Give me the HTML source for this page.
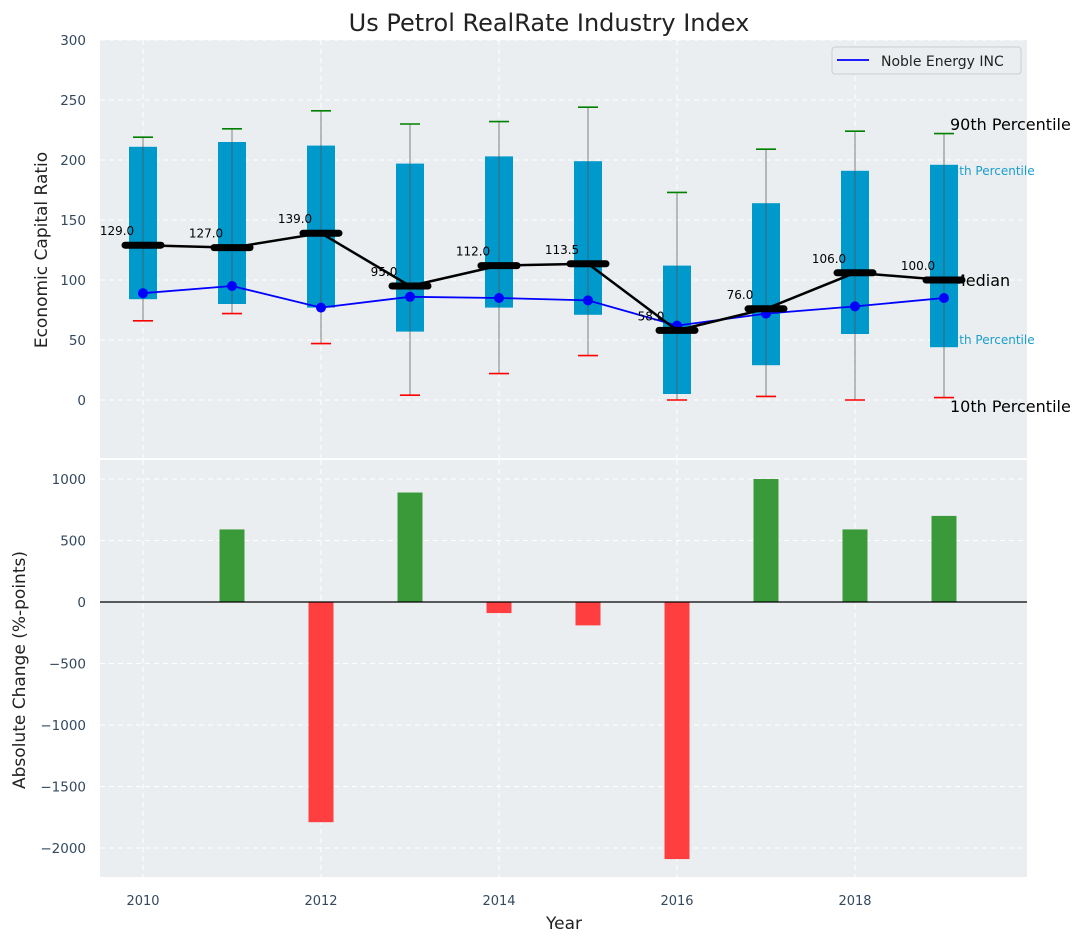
<!DOCTYPE html>
<html><head><meta charset="utf-8"><style>body{margin:0;background:#fff}svg{display:block;font-family:"DejaVu Sans","Liberation Sans",sans-serif}</style></head>
<body>
<svg id="c" width="1085" height="942"></svg>
<script>
const years=[2010,2011,2012,2013,2014,2015,2016,2017,2018,2019];
const p75=[211,215,212,197,203,199,112,164,191,196];
const p25=[84,80,77,57,77,71,5,29,55,44];
const p90=[219,226,241,230,232,244,173,209,224,222];
const p10=[66,72,47,4,22,37,0,3,0,2];
const medians=[129,127,139,95,112,113.5,58,76,106,100];
const noble=[89,95,77,86,85,83,62,72,78,85];
const changes=[0,590,-1790,890,-90,-190,-2090,1000,590,700];
const yTicksTop=[0,50,100,150,200,250,300];
const yTicksBot=[-2000,-1500,-1000,-500,0,500,1000];
const xTicks=[2010,2012,2014,2016,2018];
const NS='http://www.w3.org/2000/svg';
const svg=document.getElementById('c');
function mk(t,a,p){const e=document.createElementNS(NS,t);for(const k in a)e.setAttribute(k,a[k]);(p||svg).appendChild(e);return e;}
const L=100,R=1027;
const x=v=>143+(v-2010)*89;
const yT=v=>400-v*1.2;
const yB=v=>602-v*0.123;
let e=mk('rect',{x:L,y:40,width:R-L,height:418,fill:'#eaeef0'});

e=mk('rect',{x:L,y:460,width:R-L,height:417,fill:'#eaeef0'});

xTicks.forEach(t=>{
 mk('line',{x1:x(t),x2:x(t),y1:40,y2:458,stroke:'#fff','stroke-dasharray':'5,4','stroke-width':1});
 mk('line',{x1:x(t),x2:x(t),y1:460,y2:877,stroke:'#fff','stroke-dasharray':'5,4','stroke-width':1});
 e=mk('text',{x:x(t),y:905,'text-anchor':'middle','font-size':13,fill:'#34495e'});e.textContent=t;
 
});
yTicksTop.forEach(t=>{
 mk('line',{x1:L,x2:R,y1:yT(t),y2:yT(t),stroke:'#fff','stroke-dasharray':'5,4'});
 e=mk('text',{x:86,y:yT(t)+5,'text-anchor':'end','font-size':13.5,fill:'#34495e'});e.textContent=t;
 
});
yTicksBot.forEach(t=>{
 mk('line',{x1:L,x2:R,y1:yB(t),y2:yB(t),stroke:'#fff','stroke-dasharray':'5,4'});
 e=mk('text',{x:86,y:yB(t)+5,'text-anchor':'end','font-size':13.5,fill:'#34495e'});e.textContent=t.toString().replace('-','\u2212');
 
});
const ann=[['90th Percentile',950,130,'#000',16],['75th Percentile',944,175,'#1a9fcc',12],['Median',952,286,'#000',16],['25th Percentile',944,344,'#1a9fcc',12],['10th Percentile',950,412,'#000',16]];
ann.forEach(a=>{e=mk('text',{x:a[1],y:a[2],'font-size':a[4],fill:a[3]});e.textContent=a[0];
 });
years.forEach((yr,i)=>{
 e=mk('rect',{x:x(yr)-14,y:yT(p75[i]),width:28,height:yT(p25[i])-yT(p75[i]),fill:'#0099cc'});
 
 mk('line',{x1:x(yr),x2:x(yr),y1:yT(p90[i]),y2:yT(p10[i]),stroke:'#555','stroke-opacity':0.6,'stroke-width':1.2});
 e=mk('line',{x1:x(yr)-10,x2:x(yr)+10,y1:yT(p90[i]),y2:yT(p90[i]),stroke:'green','stroke-width':1.6});
 
 e=mk('line',{x1:x(yr)-10,x2:x(yr)+10,y1:yT(p10[i]),y2:yT(p10[i]),stroke:'red','stroke-width':1.6});
 
});
e=mk('polyline',{points:years.map((yr,i)=>x(yr)+','+yT(noble[i])).join(' '),fill:'none',stroke:'blue','stroke-width':1.8});

years.forEach((yr,i)=>{e=mk('circle',{cx:x(yr),cy:yT(noble[i]),r:5,fill:'blue'});
 });
e=mk('polyline',{points:years.map((yr,i)=>x(yr)+','+yT(medians[i])).join(' '),fill:'none',stroke:'#000','stroke-width':2.5});

years.forEach((yr,i)=>{
 e=mk('line',{x1:x(yr)-18,x2:x(yr)+18,y1:yT(medians[i]),y2:yT(medians[i]),stroke:'#000','stroke-width':7,'stroke-linecap':'round'});
 
 e=mk('text',{x:x(yr)-26,y:yT(medians[i])-10,'text-anchor':'middle','font-size':12,fill:'#000'});
 e.textContent=medians[i].toFixed(1);
 
});
const lg=mk('g',{});
mk('rect',{x:832,y:47,width:189,height:27,rx:3,fill:'#eaeef0',stroke:'#ccc'},lg);
mk('line',{x1:837,x2:869,y1:60,y2:60,stroke:'blue','stroke-width':1.8},lg);
e=mk('text',{x:881,y:66,'font-size':14,fill:'#222'},lg);e.textContent='Noble Energy INC';
years.forEach((yr,i)=>{const v=changes[i];const y0=yB(Math.max(v,0)),y1=yB(Math.min(v,0));
 e=mk('rect',{x:x(yr)-12.5,y:y0,width:25,height:y1-y0,fill:v>=0?'#3a9a3a':'#ff3f3f'});
 });
mk('line',{x1:L,x2:R,y1:yB(0),y2:yB(0),stroke:'#000','stroke-width':1.2});
e=mk('text',{x:549,y:31,'text-anchor':'middle','font-size':24,fill:'#222'});e.textContent='Us Petrol RealRate Industry Index';

e=mk('text',{x:47,y:250,'text-anchor':'middle','font-size':17,fill:'#222',transform:'rotate(-90 47 250)'});e.textContent='Economic Capital Ratio';

e=mk('text',{x:25,y:670,'text-anchor':'middle','font-size':17,fill:'#222',transform:'rotate(-90 25 670)'});e.textContent='Absolute Change (%-points)';

e=mk('text',{x:564,y:929,'text-anchor':'middle','font-size':17,fill:'#222'});e.textContent='Year';

</script>
</body></html>
